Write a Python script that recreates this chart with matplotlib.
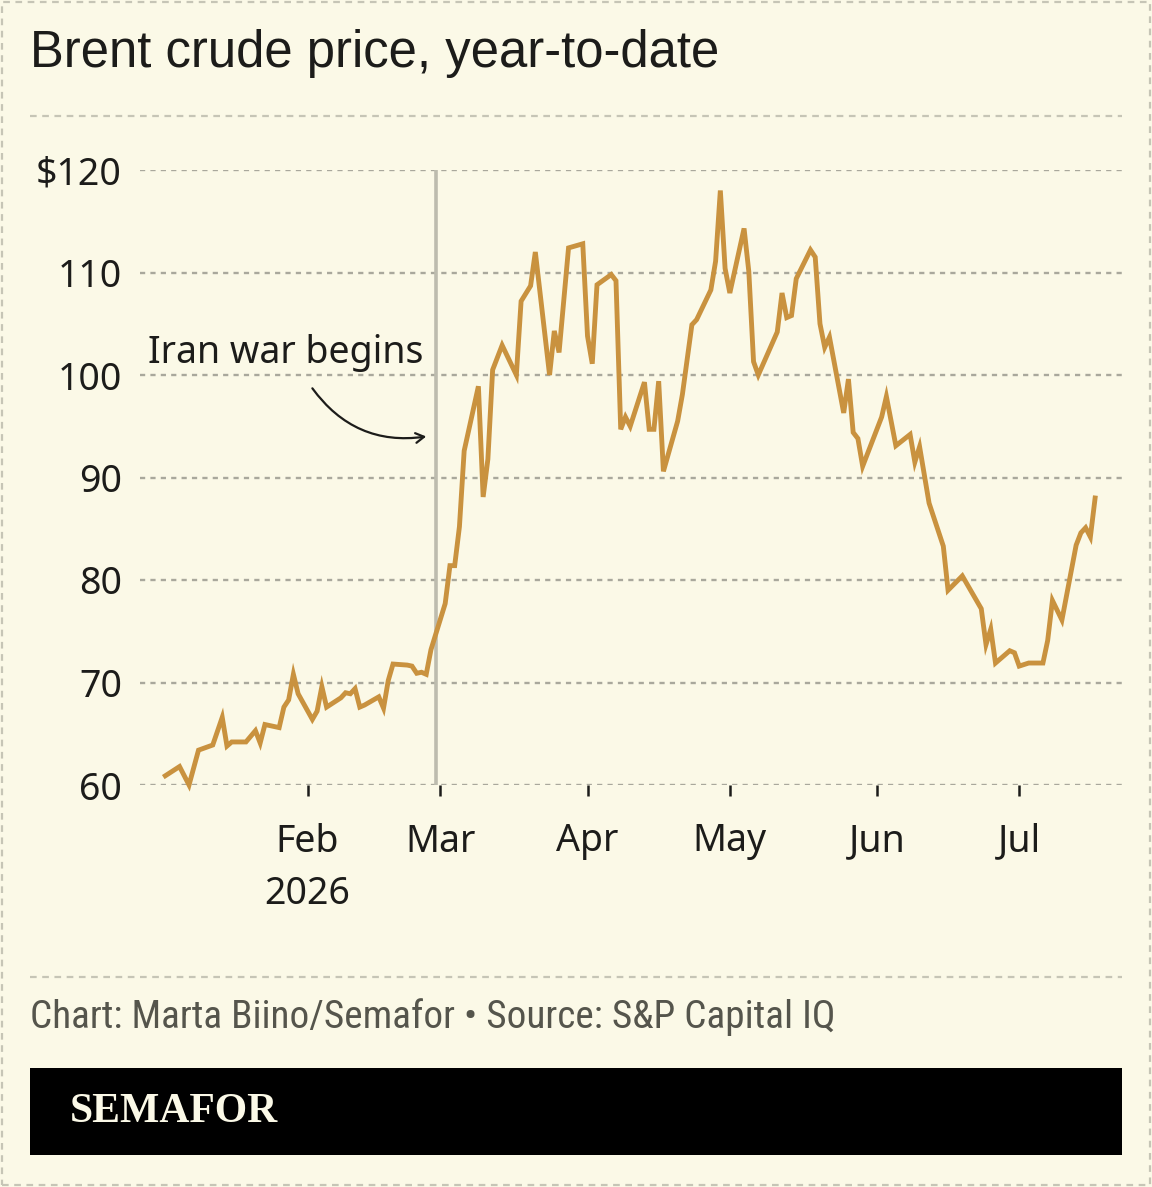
"""
Brent crude price, year-to-date (Semafor style)
"""
import pandas as pd
import matplotlib.pyplot as plt
from matplotlib.lines import Line2D
from matplotlib.patches import Rectangle

# 数据：收盘价
dates = ['2026-01-02', '2026-01-05', '2026-01-07', '2026-01-09', '2026-01-12', '2026-01-14',
         '2026-01-15', '2026-01-16', '2026-01-19', '2026-01-21', '2026-01-22', '2026-01-23',
         '2026-01-26', '2026-01-27', '2026-01-28', '2026-01-29', '2026-01-30',
         '2026-02-02', '2026-02-03', '2026-02-04', '2026-02-05', '2026-02-08', '2026-02-09',
         '2026-02-10', '2026-02-11', '2026-02-12', '2026-02-13', '2026-02-16', '2026-02-17',
         '2026-02-18', '2026-02-19', '2026-02-22', '2026-02-23', '2026-02-24', '2026-02-25',
         '2026-02-26', '2026-02-27',
         '2026-03-02', '2026-03-03', '2026-03-04', '2026-03-05', '2026-03-06', '2026-03-09',
         '2026-03-10', '2026-03-11', '2026-03-12', '2026-03-14', '2026-03-17', '2026-03-18',
         '2026-03-20', '2026-03-21', '2026-03-24', '2026-03-25', '2026-03-26', '2026-03-28',
         '2026-03-31',
         '2026-04-01', '2026-04-02', '2026-04-03', '2026-04-06', '2026-04-07', '2026-04-08',
         '2026-04-09', '2026-04-10', '2026-04-13', '2026-04-14', '2026-04-15', '2026-04-16',
         '2026-04-17', '2026-04-20', '2026-04-21', '2026-04-23', '2026-04-24', '2026-04-27',
         '2026-04-28', '2026-04-29', '2026-04-30',
         '2026-05-01', '2026-05-04', '2026-05-05', '2026-05-06', '2026-05-07', '2026-05-11',
         '2026-05-12', '2026-05-13', '2026-05-14', '2026-05-15', '2026-05-18', '2026-05-19',
         '2026-05-20', '2026-05-21', '2026-05-22', '2026-05-25', '2026-05-26', '2026-05-27',
         '2026-05-28', '2026-05-29',
         '2026-06-02', '2026-06-03', '2026-06-05', '2026-06-08', '2026-06-09', '2026-06-10',
         '2026-06-12', '2026-06-15', '2026-06-16', '2026-06-19', '2026-06-23', '2026-06-24',
         '2026-06-25', '2026-06-26', '2026-06-29', '2026-06-30',
         '2026-07-01', '2026-07-03', '2026-07-06', '2026-07-07', '2026-07-08', '2026-07-10',
         '2026-07-13', '2026-07-14', '2026-07-15', '2026-07-16', '2026-07-17']
price = [60.9, 61.8, 60.0, 63.4, 63.9, 66.6,
         63.8, 64.2, 64.2, 65.3, 64.1, 65.9,
         65.6, 67.6, 68.3, 70.8, 68.9,
         66.4, 67.2, 69.6, 67.6, 68.5, 69.0,
         68.9, 69.4, 67.6, 67.8, 68.6, 67.5,
         70.2, 71.8, 71.7, 71.6, 70.9, 71.0,
         70.8, 73.2,
         77.7, 81.4, 81.4, 85.2, 92.6, 98.9,
         88.1, 91.8, 100.5, 102.9, 100.0, 107.2,
         108.7, 112.0, 100.0, 104.3, 102.2, 112.4,
         112.8,
         103.8, 101.1, 108.8, 109.8, 109.2, 94.7,
         95.9, 95.0, 99.3, 94.7, 94.7, 99.4,
         90.6, 95.5, 98.1, 104.9, 105.4, 108.3,
         111.1, 118.0, 110.4,
         108.0, 114.3, 110.1, 101.3, 100.0, 104.2,
         108.0, 105.6, 105.8, 109.4, 112.2, 111.5,
         105.0, 102.7, 103.7, 96.3, 99.6, 94.4,
         93.8, 91.1,
         95.9, 97.9, 93.1, 94.2, 91.5, 93.0,
         87.5, 83.3, 79.0, 80.4, 77.2, 73.7,
         75.2, 71.9, 73.1, 72.9,
         71.6, 71.9, 71.9, 74.1, 78.0, 76.1,
         83.4, 84.6, 85.1, 84.2, 88.0]

y_ticks = [60, 70, 80, 90, 100, 110, 120]
y_labels = ['60', '70', '80', '90', '100', '110', '$120']
month_ticks = ['2026-02-01', '2026-03-01', '2026-04-01', '2026-05-01', '2026-06-01', '2026-07-01']
month_labels = ['Feb\n2026', 'Mar', 'Apr', 'May', 'Jun', 'Jul']
war_date = '2026-02-28'

W, H = 1152, 1187
BG = '#fbf9e7'
INK = '#1c1c1a'
GOLD = '#c9923f'

plt.rcParams['font.family'] = ['Noto Sans', 'DejaVu Sans']


def fx(px):
    return px / W


def fy(py):
    return 1 - py / H


fig = plt.figure(figsize=(W / 100, H / 100), dpi=100, facecolor=BG)
ax = fig.add_axes([fx(140), fy(785), fx(1122) - fx(140), fy(170) - fy(785)])
ax.set_facecolor(BG)

d = pd.to_datetime(dates)
ax.set_xlim(pd.Timestamp('2025-12-27 16:00'), pd.Timestamp('2026-07-22 16:00'))
ax.set_ylim(60, 120)

for v in y_ticks:
    ax.axhline(v, color='#a9a89c', lw=1.7, ls=(0, (2.2, 2.2)), zorder=1)

ax.vlines(pd.Timestamp(war_date), 60, 120, color='#bdbcae', lw=2.6, zorder=2)
ax.plot(d, price, color=GOLD, lw=3.5, solid_joinstyle='miter', zorder=3, clip_on=False)

ax.set_yticks(y_ticks)
ax.set_yticklabels(y_labels)
ax.set_xticks(pd.to_datetime(month_ticks))
ax.set_xticklabels(month_labels, linespacing=1.5)
ax.tick_params(axis='y', length=0, pad=13, labelsize=27, labelcolor=INK)
ax.tick_params(axis='x', length=8, width=1.8, color=INK, pad=19, labelsize=27, labelcolor=INK)
for s in ax.spines.values():
    s.set_visible(False)

# 标注
ax.text(pd.Timestamp('2026-02-25 12:00'), 102.1, 'Iran war begins', ha='right', va='center',
        fontsize=27, color=INK)
ax.annotate('', xy=(pd.Timestamp('2026-02-26'), 94.0), xytext=(pd.Timestamp('2026-02-02'), 98.7),
            arrowprops=dict(arrowstyle='->,head_length=0.6,head_width=0.35', lw=1.6, color=INK,
                            connectionstyle='arc3,rad=0.3', shrinkA=0, shrinkB=0))

# 标题、分隔线、来源
fig.text(fx(30), fy(54), 'Brent crude price, year-to-date', ha='left', va='center',
         fontsize=36.6, color=INK, family=['Liberation Sans', 'DejaVu Sans'])
for yy in (116, 977):
    fig.add_artist(Line2D([fx(30), fx(1122)], [fy(yy), fy(yy)], transform=fig.transFigure,
                          color='#c6c5b6', lw=1.6, ls=(0, (3, 2.5))))
fig.text(fx(30), fy(1017), 'Chart: Marta Biino/Semafor \u2022 Source: S&P Capital IQ', ha='left',
         va='center', fontsize=28.3, color='#55554c',
         family=['Liberation Sans Narrow', 'Roboto Condensed', 'Noto Sans', 'DejaVu Sans'])

fig.add_artist(Rectangle((fx(30), fy(1155)), fx(1122) - fx(30), fy(1068) - fy(1155),
                         transform=fig.transFigure, facecolor='black', edgecolor='none'))
fig.text(fx(70), fy(1112), 'SEMAFOR', ha='left', va='center', fontsize=30, fontweight='bold',
         color=BG, family=['Liberation Serif', 'DejaVu Serif'])

# 外框虚线
fig.add_artist(Rectangle((fx(2), fy(1185)), fx(1150) - fx(2), fy(2) - fy(1185),
                         transform=fig.transFigure, facecolor='none', edgecolor='#c6c5b6',
                         lw=1.6, ls=(0, (3, 2.5))))

fig.savefig('out.png', dpi=100, facecolor=BG)
